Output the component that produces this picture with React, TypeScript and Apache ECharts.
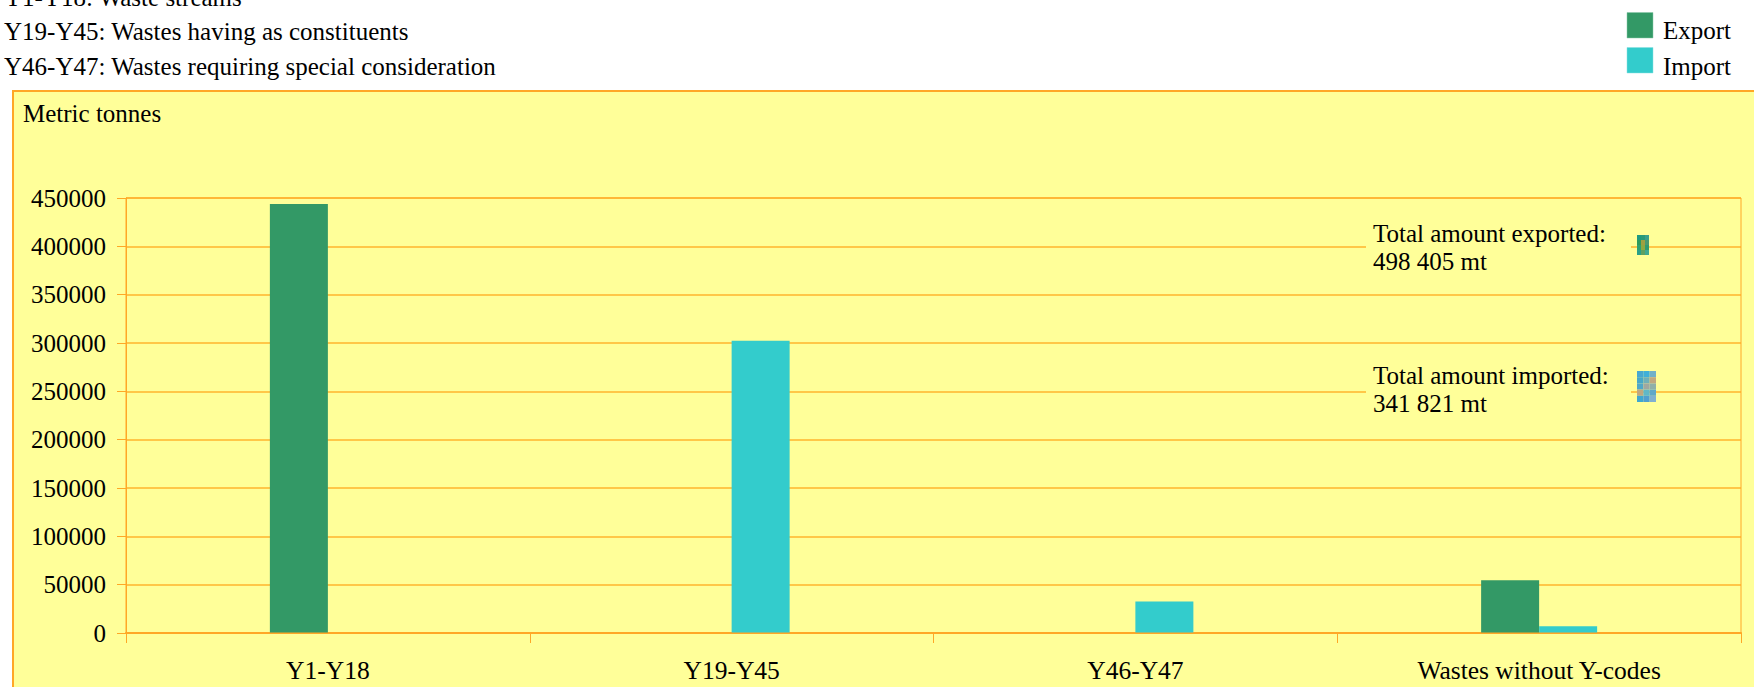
import React, { useEffect, useRef } from "react";
import * as echarts from "echarts";

const categories = ["Y1-Y18", "Y19-Y45", "Y46-Y47", "Wastes without Y-codes"];
const exportValues = [443800, 0, 0, 54600];
const importValues = [0, 302200, 32700, 6900];
const headerLines = [
  "Y1-Y18: Waste streams",
  "Y19-Y45: Wastes having as constituents",
  "Y46-Y47: Wastes requiring special consideration",
];
const seriesNames = ["Export", "Import"];
const unitLabel = "Metric tonnes";
const exportedNote = "Total amount exported:\n498 405 mt";
const importedNote = "Total amount imported:\n341 821 mt";
const icon1Colors = ["#1f9a80", "#2a9a78", "#3aa08c", "#2f9a5c", "#a0a040", "#4a9a70", "#30a070", "#90a840", "#309a70", "#2aa088", "#60a060", "#40a890"];
const icon2Colors = ["#48a8d0", "#40b0d8", "#70b0c8", "#48a8c8", "#70b0b8", "#c0a880", "#50a8c8", "#a0a8a0", "#90b0a8", "#c0a880", "#60b8c8", "#60a8c8", "#40a8d0", "#50a0d0", "#80b0d0"];

const FONT = "'Liberation Serif', 'Times New Roman', serif";
const BORDER = "#FFA726";
const LINE = "#FFB42E";

function iconCells(x: number, y: number, cw: number, ch: number, cols: number, colors: string[]) {
  return colors.map((fill, i) => ({
    type: "rect",
    z: 30,
    silent: true,
    shape: { x: x + (i % cols) * cw, y: y + Math.floor(i / cols) * ch, width: cw, height: ch },
    style: { fill },
  }));
}

export default function App() {
  const ref = useRef<HTMLDivElement>(null);
  useEffect(() => {
    const chart = echarts.init(ref.current!, null, { renderer: "svg" });
    const text = (x: number, y: number, t: string, extra: any = {}) => ({
      type: "text",
      x,
      y,
      z: 30,
      silent: true,
      style: { text: t, fill: "#000", font: `25px ${FONT}`, textVerticalAlign: "middle", lineHeight: 28, ...extra },
    });
    chart.setOption({
      animation: false,
      backgroundColor: "#fff",
      textStyle: { fontFamily: FONT },
      grid: {
        left: 126,
        right: 13,
        top: 198,
        height: 435,
        show: true,
        borderColor: BORDER,
        borderWidth: 1,
        backgroundColor: "transparent",
        z: 5,
      },
      xAxis: {
        type: "category",
        data: categories,
        axisLine: { lineStyle: { color: BORDER, width: 2 } },
        axisTick: { show: true, length: 10, lineStyle: { color: BORDER } },
        axisLabel: { color: "#000", fontSize: 25.5, fontFamily: FONT, margin: 24 },
      },
      yAxis: {
        type: "value",
        min: 0,
        max: 450000,
        interval: 50000,
        axisLine: { show: true, lineStyle: { color: BORDER } },
        axisTick: { show: true, length: 9, lineStyle: { color: BORDER } },
        axisLabel: { color: "#000", fontSize: 25, fontFamily: FONT, margin: 20, formatter: (v: number) => String(v) },
        splitLine: { lineStyle: { color: LINE, width: 1.5 } },
      },
      series: [
        { name: seriesNames[0], type: "bar", data: exportValues, barWidth: 58, barGap: "0%", itemStyle: { color: "#339966" }, z: 3 },
        { name: seriesNames[1], type: "bar", data: importValues, barWidth: 58, barGap: "0%", itemStyle: { color: "#33CCCC" }, z: 3 },
      ],
      graphic: [
        { type: "rect", z: -1, silent: true, shape: { x: 13, y: 91, width: 1760, height: 620 }, style: { fill: "#FFFF99", stroke: BORDER, lineWidth: 2 } },
        text(4, -3, headerLines[0]),
        text(4, 31, headerLines[1]),
        text(4, 66, headerLines[2]),
        text(23, 113, unitLabel),
        { type: "rect", z: 20, silent: true, shape: { x: 1627, y: 12.5, width: 26, height: 25.5 }, style: { fill: "#339966", stroke: "#88c8a8", lineWidth: 0.5 } },
        { type: "rect", z: 20, silent: true, shape: { x: 1627, y: 47.5, width: 26, height: 25.5 }, style: { fill: "#33CCCC", stroke: "#88e0e0", lineWidth: 0.5 } },
        text(1663, 30, seriesNames[0]),
        text(1663, 66, seriesNames[1]),
        { type: "rect", z: 20, silent: true, shape: { x: 1366, y: 218, width: 265, height: 68 }, style: { fill: "#FFFF99" } },
        { type: "rect", z: 20, silent: true, shape: { x: 1366, y: 359, width: 265, height: 68 }, style: { fill: "#FFFF99" } },
        text(1373, 247, exportedNote),
        text(1373, 389, importedNote),
        ...iconCells(1637, 235, 4, 5, 3, icon1Colors),
        ...iconCells(1637, 371, 6.33, 6.2, 3, icon2Colors),
      ],
    });
    return () => chart.dispose();
  }, []);
  return <div ref={ref} style={{ position: "fixed", left: 0, top: 0, width: 1754, height: 687 }} />;
}
